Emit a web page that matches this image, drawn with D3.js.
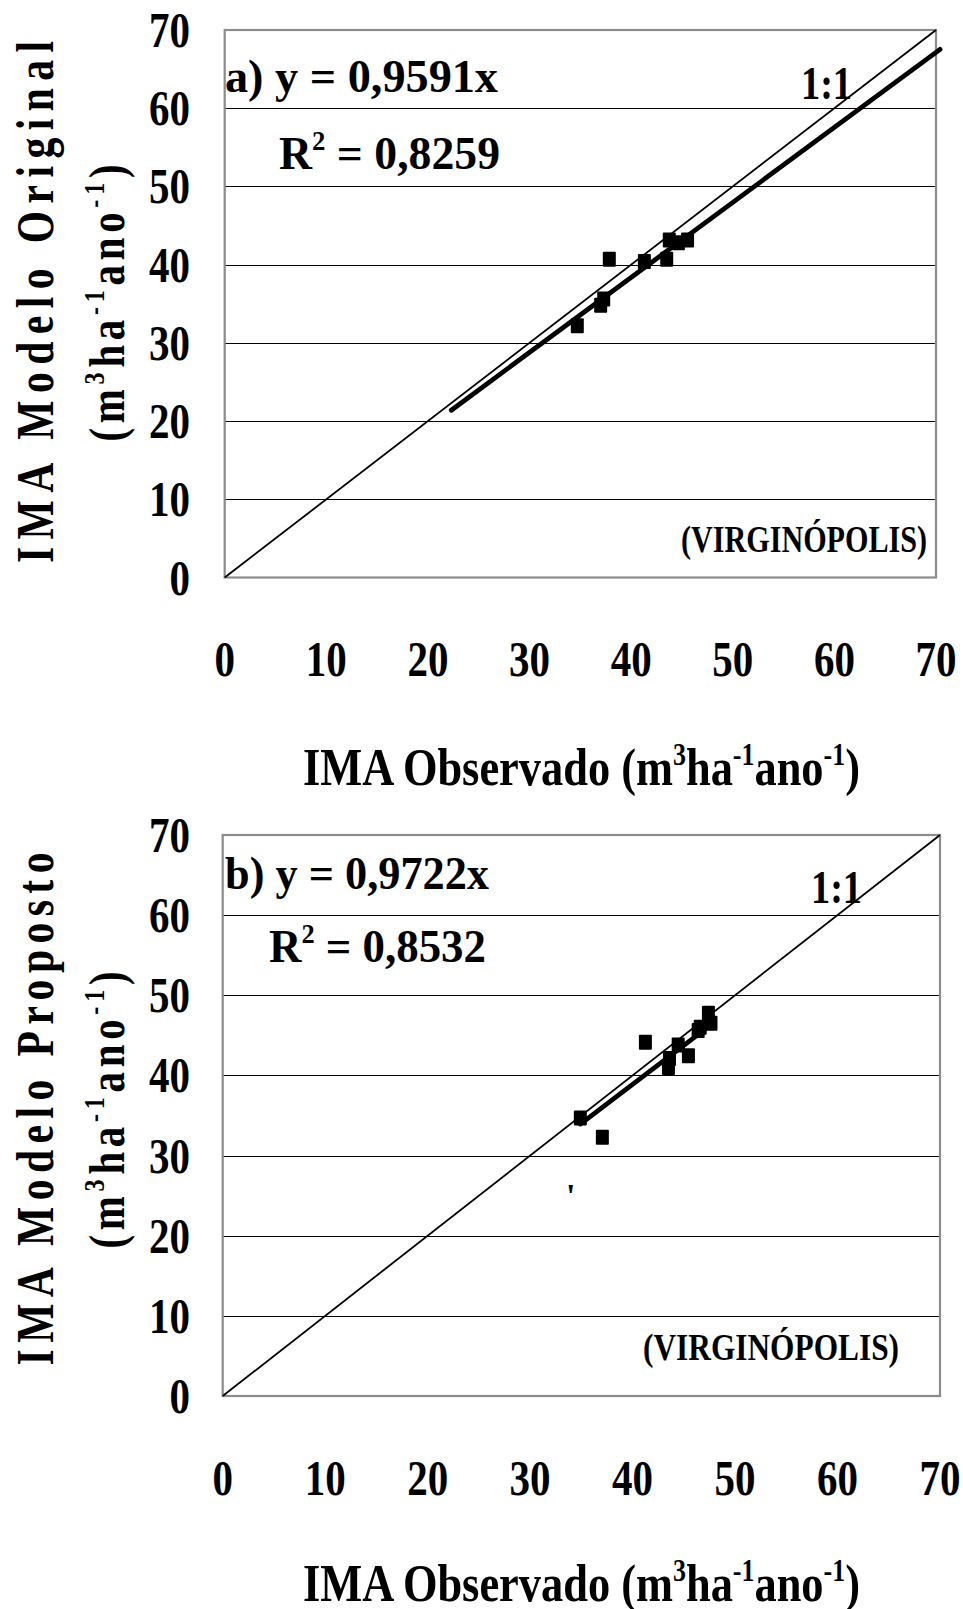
<!DOCTYPE html>
<html><head><meta charset="utf-8">
<script src="https://cdn.jsdelivr.net/npm/d3@7"></script>
<style>
html,body{margin:0;padding:0;background:#fff;}
svg text{font-family:"Liberation Serif","Times New Roman",serif;font-weight:bold;fill:#000;}
</style></head>
<body>
<svg id="chart" width="963" height="1609"></svg>
<script>
// ---------- data ----------
const tickValues = [0, 10, 20, 30, 40, 50, 60, 70];
const xTitle = ["IMA Observado (m", "3", "ha", "-1", "ano", "-1", ")"];
const yUnits = ["(m", "3", "ha", "-1", "ano", "-1", ")"];

// Panel a) Modelo Original
const obsA = [34.7, 37.0, 37.3, 37.85, 41.3, 43.5, 43.75, 44.65, 45.55];
const modA = [32.2, 34.8, 35.6, 40.7, 40.4, 40.7, 43.15, 42.8, 43.15];
const fitA = [0.9591, 22.3, 70.4];           // slope, x start, x end
const eqA = ["a)  y = 0,9591x", "0,8259"];

// Panel b) Modelo Proposto
const obsB = [34.9, 37.05, 41.25, 43.5, 43.6, 44.45, 45.45, 46.4, 46.6, 47.4, 47.65];
const modB = [34.7, 32.3, 44.15, 41.0, 42.1, 43.8, 42.45, 45.6, 46.0, 47.75, 46.5];
const fitB = [0.9722, 34.9, 47.6];
const eqB = ["b) y = 0,9722x", "0,8532"];

const site = "(VIRGINÓPOLIS)";
const yTitleA = "IMA Modelo Original";
const yTitleB = "IMA Modelo Proposto";

// ---------- drawing ----------
const svg = d3.select("#chart");

function supText(sel, parts, supSize, shift) {
  parts.forEach((p, i) => {
    const isSup = i % 2 === 1;
    const t = sel.append("tspan").text(p);
    if (isSup) t.attr("font-size", supSize).attr("dy", -shift);
    else if (i > 0) t.attr("dy", shift);
  });
}

function panel(cfg) {
  const x = d3.scaleLinear().domain([0, 70]).range([cfg.left, cfg.right]);
  const y = d3.scaleLinear().domain([0, 70]).range([cfg.bottom, cfg.top]);
  const g = svg.append("g");

  // gridlines
  g.selectAll("line.grid").data(tickValues.filter(v => v > 0 && v < 70)).join("line")
    .attr("x1", cfg.left).attr("x2", cfg.right)
    .attr("y1", d => Math.round(y(d)) + 0.5).attr("y2", d => Math.round(y(d)) + 0.5)
    .attr("stroke", "#000").attr("stroke-width", 1.2);

  // frame
  g.append("rect").attr("x", cfg.left).attr("y", cfg.top)
    .attr("width", cfg.right - cfg.left).attr("height", cfg.bottom - cfg.top)
    .attr("fill", "none").attr("stroke", "#8c8c8c").attr("stroke-width", 2.2);

  // 1:1 line
  g.append("line").attr("x1", x(0)).attr("y1", y(0)).attr("x2", x(70)).attr("y2", y(70))
    .attr("stroke", "#000").attr("stroke-width", 1.8);

  // regression line
  const f = cfg.fit;
  g.append("line").attr("x1", x(f[1])).attr("y1", y(f[0] * f[1]))
    .attr("x2", x(f[2])).attr("y2", y(f[0] * f[2]))
    .attr("stroke", "#000").attr("stroke-width", 4.8).attr("stroke-linecap", "round");

  // points
  const pts = cfg.obs.map((o, i) => [o, cfg.mod[i]]);
  g.selectAll("rect.pt").data(pts).join("rect")
    .attr("x", d => x(d[0]) - 6.5).attr("y", d => y(d[1]) - 7.5)
    .attr("width", 13).attr("height", 15).attr("rx", 1).attr("fill", "#000");

  // y tick labels
  g.selectAll("g.yt").data(tickValues).join("g")
    .attr("transform", d => `translate(190,${y(d) + 17}) scale(0.82,1)`)
    .append("text").attr("text-anchor", "end").attr("font-size", 50).text(d => d);

  // x tick labels
  g.selectAll("g.xt").data(tickValues).join("g")
    .attr("transform", d => `translate(${x(d)},${cfg.xTickBase}) scale(0.82,1)`)
    .append("text").attr("text-anchor", "middle").attr("font-size", 50).text(d => d);

  // x title
  const xt = g.append("text").attr("x", 303).attr("y", cfg.xTitleBase)
    .attr("font-size", 53).attr("textLength", 557).attr("lengthAdjust", "spacingAndGlyphs");
  supText(xt, xTitle, 31, 20);

  // y title (two lines, rotated; glyphs narrowed along baseline, letter-spaced)
  const yc = cfg.yTitleCenter;
  const sq = 0.8;
  g.append("text")
    .attr("transform", `translate(53,${yc + cfg.yLen1 / 2}) rotate(-90) scale(${sq},1)`)
    .attr("font-size", 52).attr("textLength", cfg.yLen1 / sq).attr("lengthAdjust", "spacing")
    .text(cfg.yTitle);
  const yu = g.append("text")
    .attr("transform", `translate(124,${yc + 1 + 277 / 2}) rotate(-90) scale(${sq},1)`)
    .attr("font-size", 51).attr("textLength", 277 / sq).attr("lengthAdjust", "spacing");
  supText(yu, yUnits, 30, 20);

  // equation
  g.append("text").attr("x", cfg.eqX).attr("y", cfg.eqBase).attr("font-size", 46)
    .attr("textLength", cfg.eqLen).attr("lengthAdjust", "spacingAndGlyphs").text(cfg.eq[0]);
  const r2 = g.append("text").attr("x", cfg.r2X).attr("y", cfg.r2Base).attr("font-size", 46)
    .attr("textLength", cfg.r2Len).attr("lengthAdjust", "spacingAndGlyphs");
  r2.append("tspan").text("R");
  r2.append("tspan").attr("font-size", 27).attr("dy", -19).text("2");
  r2.append("tspan").attr("dy", 19).text(" = " + cfg.eq[1]);

  g.append("text").attr("x", cfg.oneX).attr("y", cfg.oneBase).attr("font-size", 46)
    .attr("textLength", 51).attr("lengthAdjust", "spacingAndGlyphs").text("1:1");

  g.append("text").attr("x", cfg.siteX).attr("y", cfg.siteBase).attr("font-size", 37)
    .attr("textLength", cfg.siteLen).attr("lengthAdjust", "spacingAndGlyphs").text(site);

  if (cfg.stray) {
    g.append("text").attr("x", cfg.stray[0]).attr("y", cfg.stray[1]).attr("font-size", 34)
      .text("'");
  }
}

panel({
  left: 224.7, right: 936, top: 30, bottom: 577.5,
  obs: obsA, mod: modA, fit: fitA, eq: eqA, yTitle: yTitleA,
  xTickBase: 676, xTitleBase: 785, yTitleCenter: 302, yLen1: 522,
  eqX: 225, eqBase: 92, eqLen: 273, r2X: 279, r2Base: 169, r2Len: 221,
  oneX: 801, oneBase: 99, siteX: 681, siteBase: 552, siteLen: 246
});

panel({
  left: 222.7, right: 940, top: 835, bottom: 1396,
  obs: obsB, mod: modB, fit: fitB, eq: eqB, yTitle: yTitleB,
  xTickBase: 1495, xTitleBase: 1601, yTitleCenter: 1109, yLen1: 513,
  eqX: 225, eqBase: 889, eqLen: 264, r2X: 269, r2Base: 962, r2Len: 217,
  oneX: 811, oneBase: 903, siteX: 643, siteBase: 1360, siteLen: 256,
  stray: [566, 1207]
});
</script>
</body></html>
